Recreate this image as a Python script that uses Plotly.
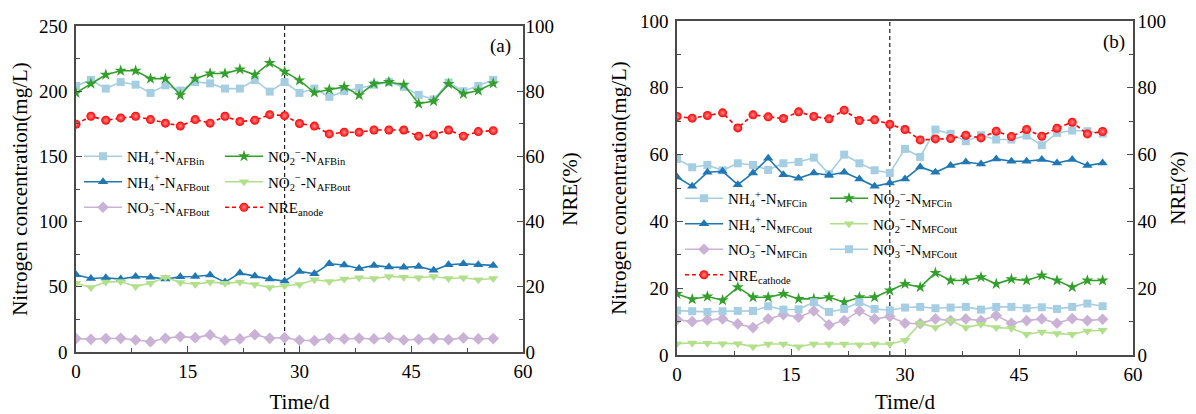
import plotly.graph_objects as go

# ---------------- data ----------------
days = [0, 2, 4, 6, 8, 10, 12, 14, 16, 18, 20, 22, 24, 26, 28,
        30, 32, 34, 36, 38, 40, 42, 44, 46, 48, 50, 52, 54, 56]
phase_change_day = 28

# panel (a) - anode (AFB)
a_nh4_in = [204, 208.6, 202, 207, 205, 198.7, 204.5, 200.5, 207, 206, 202, 202, 208.6, 199.7, 207,
            198.7, 202, 195.7, 200, 202.5, 205, 207, 203.3, 197.2, 193.7, 206.6, 200, 204, 208.6]
a_no2_in = [198.7, 205.8, 212.6, 215.7, 215.7, 209.6, 209.6, 197, 209.6, 213.6, 213.6, 216.7, 212.6, 221.7, 214.9,
            208.3, 199, 201.3, 203.3, 197, 205.8, 207, 205, 190.4, 192.4, 205.6, 198, 200.5, 206]
a_nh4_out = [59.2, 56.4, 56.9, 55.9, 57.9, 57.4, 55.9, 57.7, 57.9, 59, 53.6, 60.5, 58.2, 55.9, 54.4,
             61.8, 60, 67.7, 66.7, 64.1, 66.4, 65.1, 64.9, 65.6, 62.6, 66.9, 67.7, 66.9, 66.4]
a_no2_out = [52.8, 49.5, 53.6, 54.1, 50.3, 52.8, 57.4, 53.3, 52, 53.6, 52.8, 53.6, 51.8, 49.5, 50.8,
             51.8, 55.4, 54.1, 55.9, 56.9, 56.4, 57.9, 57.4, 56.9, 57.9, 56.4, 56.9, 55.4, 56.4]
a_no3_out = [10.3, 9.7, 10.3, 10.5, 9.2, 7.9, 10.5, 11.8, 11, 13.1, 9, 10, 13.3, 10.5, 11,
             9, 8.7, 10.5, 10, 10.5, 10, 11, 9.2, 9.7, 10.3, 9.5, 10.8, 10, 10.3]
a_nre = [69.9, 72.3, 71.1, 71.8, 72.3, 71.3, 70.2, 69.3, 71.3, 70.2, 72.3, 70.7, 71.1, 72.8, 72.5,
         70.1, 69.3, 66.9, 67.4, 67.4, 68.1, 68.1, 68.1, 66.2, 66.6, 68.1, 66.2, 67.6, 67.9]

# panel (b) - cathode (MFC)
b_nh4_in = [58.7, 56.2, 56.9, 55.3, 57.4, 56.9, 55.4, 57.4, 57.8, 59.1, 54.2, 60, 57.4, 55.3, 54.5,
            61.7, 59.3, 67.5, 66.2, 64, 65.8, 64.5, 64.5, 65.7, 62.8, 66.5, 67.2, 67, 66.3]
b_nh4_out = [53.3, 50.5, 54.7, 55, 51, 54.5, 58.9, 54, 52.9, 54.5, 53.8, 54.7, 52.7, 50.5, 51.5,
             52.7, 56.3, 54.7, 56.7, 57.8, 57.2, 58.7, 58, 58, 58.5, 57.5, 58.5, 56.7, 57.5]
b_no2_in = [18.3, 16.7, 17.5, 16.4, 20.3, 17.3, 17.3, 18.3, 16.8, 16.8, 17.3, 15.8, 17.3, 17.3, 19.3,
            21.3, 20.3, 24.6, 22.3, 22.3, 23.3, 21.3, 22.7, 22.3, 23.8, 22.3, 20.3, 22.3, 22.3]
b_no2_out = [3.4, 3.6, 3.5, 3.4, 3.4, 2.5, 3.3, 3.3, 2.5, 3.3, 3.3, 3.3, 3.1, 3.3, 3.3,
             4.4, 9.5, 8.2, 10.3, 8.2, 9.2, 8.2, 8, 6.2, 6.9, 6.4, 6.2, 7.2, 7.4]
b_no3_in = [10.6, 10, 10.5, 10.8, 9.3, 8.2, 10.8, 12.1, 11.3, 13.2, 9, 10.3, 13.2, 10.8, 11.5,
            9.5, 9.4, 10.8, 10.3, 10.8, 10.3, 11.8, 9.5, 10.3, 10.8, 9.5, 10.9, 10.3, 10.7]
b_no3_out = [13.3, 13.1, 12.9, 13.1, 13.2, 13.2, 14.6, 13.6, 13.7, 15.8, 12.9, 13.8, 15.8, 13.8, 13.4,
             14.2, 14.4, 14, 14.2, 14.4, 13.6, 14.4, 14.4, 14, 14.3, 13.8, 14.4, 15.4, 14.6]
b_nre = [71.4, 70.9, 71.7, 72.5, 68, 71.9, 71.3, 70.8, 72.8, 71.4, 70.7, 73.3, 70.2, 70.4, 69.1,
         67.5, 64.4, 64.7, 64.8, 65.8, 65, 67, 65.4, 67.5, 65.5, 67.9, 69.7, 66.2, 66.9]

x_ticks = [0, 15, 30, 45, 60]

# ---------------- styles ----------------
FONT = "Liberation Serif, Times New Roman, serif"
C_LB = "#a6cee3"
C_DB = "#1f78b4"
C_DG = "#33a02c"
C_LG = "#b2df8a"
C_PU = "#cab2d6"
C_RED = "#ff0000"
AX_COL = "#4a4a4a"

fig = go.Figure()


def add(y, name, color, symbol, size, xa, ya, legend, dash="solid", red=False):
    marker = dict(symbol=symbol, size=size, color=color, line=dict(width=0))
    if red:
        marker = dict(symbol="circle", size=size, color=color,
                      gradient=dict(type="radial", color="#ff8a8a"),
                      line=dict(width=0))
    fig.add_trace(go.Scatter(
        x=days, y=y, name=name, mode="lines+markers",
        line=dict(color=color, width=1.6, dash=dash),
        marker=marker, xaxis=xa, yaxis=ya, legend=legend,
        legendgroup=name,
    ))


# panel a
add(a_nh4_in, "NH<sub>4</sub><sup>+</sup>-N<sub>AFBin</sub>", C_LB, "square", 8, "x", "y", "legend")
add(a_nh4_out, "NH<sub>4</sub><sup>+</sup>-N<sub>AFBout</sub>", C_DB, "triangle-up", 9, "x", "y", "legend")
add(a_no3_out, "NO<sub>3</sub><sup>−</sup>-N<sub>AFBout</sub>", C_PU, "diamond", 9, "x", "y", "legend")
add(a_no2_in, "NO<sub>2</sub><sup>−</sup>-N<sub>AFBin</sub>", C_DG, "star", 9, "x", "y", "legend2")
add(a_no2_out, "NO<sub>2</sub><sup>−</sup>-N<sub>AFBout</sub>", C_LG, "triangle-down", 9, "x", "y", "legend2")
add(a_nre, "NRE<sub>anode</sub>", C_RED, "circle", 9, "x", "y2", "legend2", dash="4px,3px", red=True)

# panel b
add(b_nh4_in, "NH<sub>4</sub><sup>+</sup>-N<sub>MFCin</sub>", C_LB, "square", 8, "x2", "y3", "legend3")
add(b_nh4_out, "NH<sub>4</sub><sup>+</sup>-N<sub>MFCout</sub>", C_DB, "triangle-up", 9, "x2", "y3", "legend3")
add(b_no3_in, "NO<sub>3</sub><sup>−</sup>-N<sub>MFCin</sub>", C_PU, "diamond", 9, "x2", "y3", "legend3")
add(b_nre, "NRE<sub>cathode</sub>", C_RED, "circle", 9, "x2", "y4", "legend3", dash="4px,3px", red=True)
add(b_no2_in, "NO<sub>2</sub><sup>−</sup>-N<sub>MFCin</sub>", C_DG, "star", 9, "x2", "y3", "legend4")
add(b_no2_out, "NO<sub>2</sub><sup>−</sup>-N<sub>MFCout</sub>", C_LG, "triangle-down", 9, "x2", "y3", "legend4")
add(b_no3_out, "NO<sub>3</sub><sup>−</sup>-N<sub>MFCout</sub>", C_LB, "square", 8, "x2", "y3", "legend4")

# figure is placed 8px from the page's top-left corner
W, H = 1188, 406
dom_xa = [68 / W, 515 / W]
dom_ya = [(H - 344) / H, (H - 18) / H]
dom_xb = [669 / W, 1125 / W]
dom_yb = [(H - 347) / H, (H - 13) / H]

tickfont = dict(family=FONT, size=19, color="black")
titlefont = dict(family=FONT, size=21, color="black")


def xaxis(domain, anchor, standoff):
    return dict(domain=domain, anchor=anchor, range=[0, 60], tickvals=x_ticks,
                ticks="inside", ticklen=6, tickwidth=1.3, tickcolor=AX_COL,
                minor=dict(dtick=7.5, ticks="inside", ticklen=4, tickwidth=1.2, tickcolor=AX_COL),
                showline=True, linecolor=AX_COL, linewidth=1.6, mirror=True,
                showgrid=False, zeroline=False, tickfont=tickfont,
                title=dict(text="Time/d", font=titlefont, standoff=standoff),
                automargin=False, ticklabelstandoff=1)


def yaxis(domain, anchor, rng, dtick, minor, title, side="left", overlaying=None,
          standoff=10, lstand=2):
    d = dict(domain=domain, anchor=anchor, range=rng, dtick=dtick, side=side,
             ticks="inside", ticklen=6, tickwidth=1.3, tickcolor=AX_COL,
             minor=dict(dtick=minor, ticks="inside", ticklen=4, tickwidth=1.2, tickcolor=AX_COL),
             showline=True, linecolor=AX_COL, linewidth=1.6,
             showgrid=False, zeroline=False, tickfont=tickfont,
             title=dict(text=title, font=titlefont, standoff=standoff),
             automargin=False, ticklabelstandoff=lstand)
    if overlaying:
        d["overlaying"] = overlaying
    return d


legend_common = dict(bgcolor="rgba(0,0,0,0)", borderwidth=0, orientation="v",
                     font=dict(family=FONT, size=15, color="black"),
                     itemwidth=38, tracegroupgap=3, xanchor="left", yanchor="top",
                     itemclick=False)

fig.update_layout(
    width=W, height=H,
    margin=dict(l=0, r=0, t=0, b=0),
    paper_bgcolor="white", plot_bgcolor="white",
    font=dict(family=FONT, color="black"),
    xaxis=xaxis(dom_xa, "y", 14),
    xaxis2=xaxis(dom_xb, "y3", 14),
    yaxis=yaxis(dom_ya, "x", [0, 250], 50, 25, "Nitrogen concentration(mg/L)", standoff=6, lstand=3),
    yaxis2=yaxis(dom_ya, "x", [0, 100], 20, 10, "NRE(%)", side="right", overlaying="y",
                 standoff=9, lstand=-3),
    yaxis3=yaxis(dom_yb, "x2", [0, 100], 20, 10, "Nitrogen concentration(mg/L)", standoff=8, lstand=3),
    yaxis4=yaxis(dom_yb, "x2", [0, 100], 20, 10, "NRE(%)", side="right", overlaying="y3",
                 standoff=5, lstand=-1),
    legend=dict(legend_common, x=71 / W, y=(H - 132) / H),
    legend2=dict(legend_common, x=212 / W, y=(H - 132) / H),
    legend3=dict(legend_common, x=672 / W, y=(H - 174) / H),
    legend4=dict(legend_common, x=817 / W, y=(H - 174) / H),
    showlegend=True,
)

# phase-change dashed lines
for xr, yr in (("x", "y domain"), ("x2", "y3 domain")):
    fig.add_shape(type="line", xref=xr, yref=yr, x0=phase_change_day, x1=phase_change_day,
                  y0=0, y1=1, line=dict(color="#222222", width=1.2, dash="4px,3px"), layer="below")

# panel labels
fig.add_annotation(text="(a)", xref="x domain", yref="y domain", x=1, y=1, xanchor="right",
                   yanchor="middle", xshift=-10, yshift=-20, showarrow=False,
                   font=dict(family=FONT, size=19, color="black"))
fig.add_annotation(text="(b)", xref="x2 domain", yref="y3 domain", x=1, y=1, xanchor="right",
                   yanchor="middle", xshift=-6, yshift=-21, showarrow=False,
                   font=dict(family=FONT, size=19, color="black"))

fig.write_html("out.html")
